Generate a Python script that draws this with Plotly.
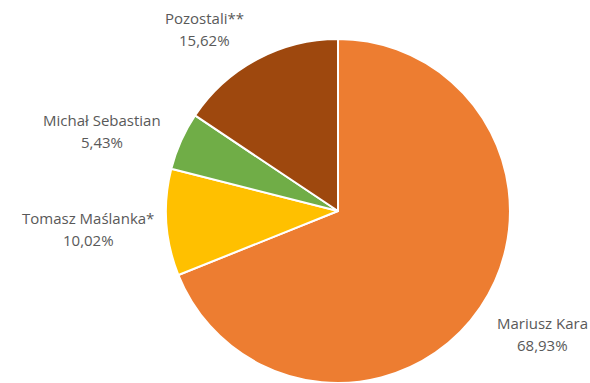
import plotly.graph_objects as go

labels = ["Mariusz Kara", "Tomasz Maślanka*", "Michał Sebastian", "Pozostali**"]
values = [68.93, 10.02, 5.43, 15.62]
colors = ["#ED7D31", "#FFC000", "#70AD47", "#9E480E"]
label_pos = [(542, 323), (88, 218), (102, 120), (204, 18)]  # pixel centers of first label line

W, H = 590, 383

fig = go.Figure(go.Pie(
    labels=labels, values=values, sort=False, direction="clockwise", rotation=0,
    marker=dict(colors=colors, line=dict(color="white", width=2)),
    textinfo="none", hoverinfo="label+percent",
    domain=dict(x=[165 / W, 511 / W], y=[0, 0.898]),
    showlegend=False,
))

font = dict(family="Open Sans", size=15, color="#595959")
for lab, v, (px, py) in zip(labels, values, label_pos):
    for txt, dy in ((lab, 0), (f"{v:.2f}%".replace(".", ","), 22)):
        fig.add_annotation(
            x=px / W, y=1 - (py + dy) / H, xref="paper", yref="paper",
            text=txt, showarrow=False, xanchor="center", yanchor="middle",
            font=font,
        )

fig.update_layout(
    width=W, height=H, margin=dict(l=0, r=0, t=0, b=0),
    paper_bgcolor="white", plot_bgcolor="white",
)
fig.write_html("out.html")
